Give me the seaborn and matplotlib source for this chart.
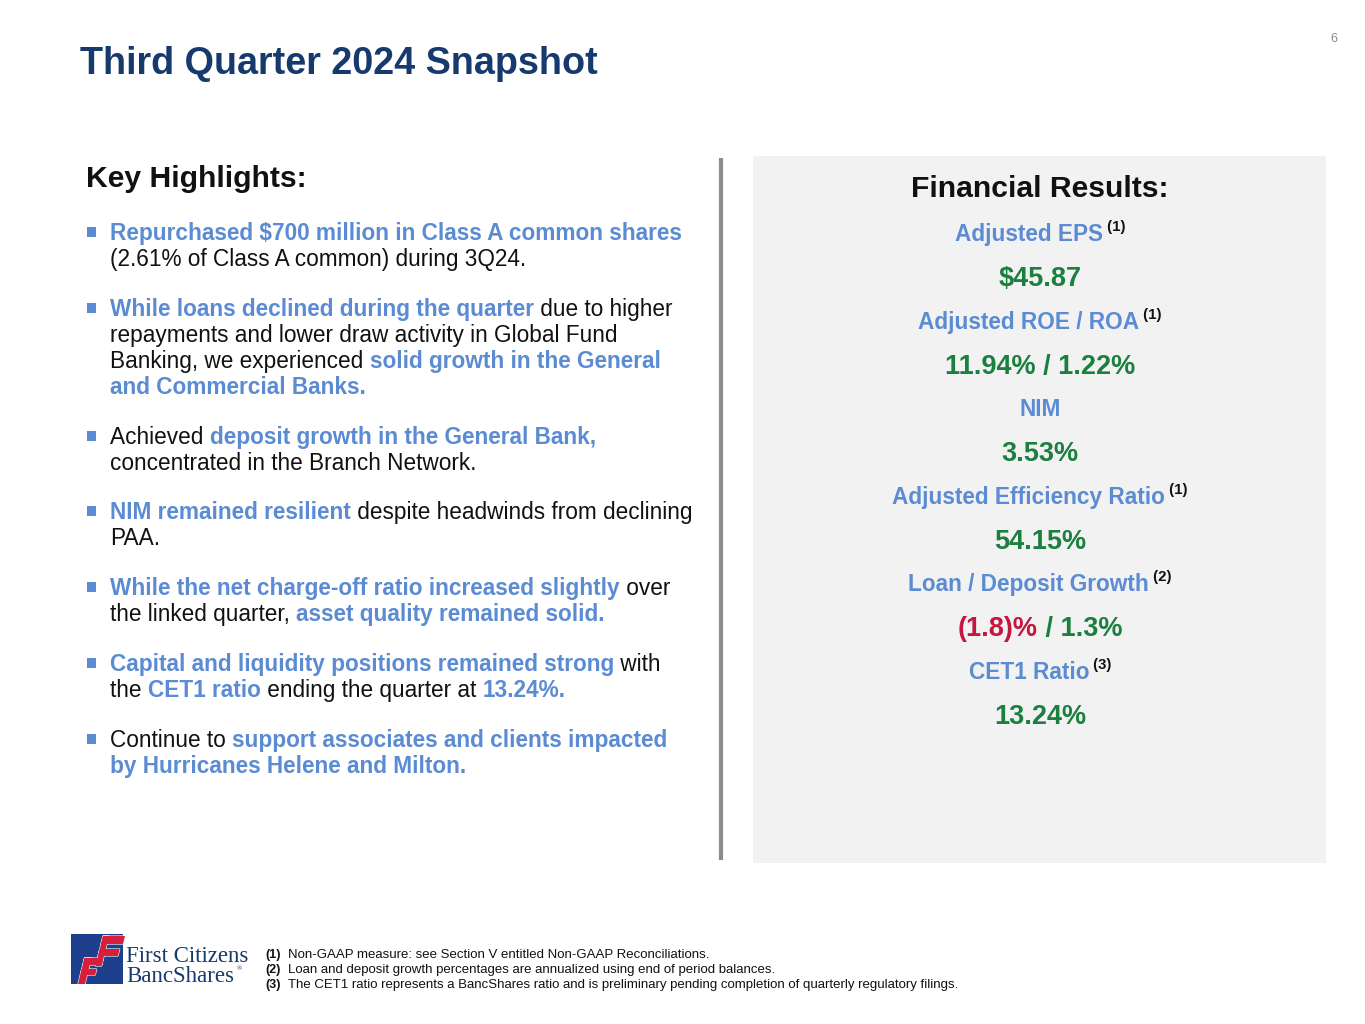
import matplotlib
matplotlib.use("Agg")
import matplotlib.pyplot as plt
import seaborn as sns
import pandas as pd
from matplotlib.patches import Rectangle, Polygon

# ---------------- data ----------------
title = "Third Quarter 2024 Snapshot"
page_number = "6"
left_heading = "Key Highlights:"
right_heading = "Financial Results:"

bullets = [
    [[("Repurchased $700 million in Class A common shares", True)],
     [("(2.61% of Class A common) during 3Q24.", False)]],
    [[("While loans declined during the quarter", True), (" due to higher", False)],
     [("repayments and lower draw activity in Global Fund", False)],
     [("Banking, we experienced ", False), ("solid growth in the General", True)],
     [("and Commercial Banks.", True)]],
    [[("Achieved ", False), ("deposit growth in the General Bank,", True)],
     [("concentrated in the Branch Network.", False)]],
    [[("NIM remained resilient", True), (" despite headwinds from declining", False)],
     [("PAA.", False)]],
    [[("While the net charge-off ratio increased slightly", True), (" over", False)],
     [("the linked quarter, ", False), ("asset quality remained solid.", True)]],
    [[("Capital and liquidity positions remained strong", True), (" with", False)],
     [("the ", False), ("CET1 ratio", True), (" ending the quarter at ", False), ("13.24%.", True)]],
    [[("Continue to ", False), ("support associates and clients impacted", True)],
     [("by Hurricanes Helene and Milton.", True)]],
]

metric_labels = ["Adjusted EPS", "Adjusted ROE / ROA", "NIM",
                 "Adjusted Efficiency Ratio", "Loan / Deposit Growth", "CET1 Ratio"]
metric_notes = ["(1)", "(1)", "", "(1)", "(2)", "(3)"]
# each value: list of (text, is_negative)
metric_values = [
    [("$45.87", False)],
    [("11.94% / 1.22%", False)],
    [("3.53%", False)],
    [("54.15%", False)],
    [("(1.8)%", True), (" / 1.3%", False)],
    [("13.24%", False)],
]

footnote_marks = ["(1)", "(2)", "(3)"]
footnote_texts = [
    "Non-GAAP measure: see Section V entitled Non-GAAP Reconciliations.",
    "Loan and deposit growth percentages are annualized using end of period balances.",
    "The CET1 ratio represents a BancShares ratio and is preliminary pending completion of quarterly regulatory filings.",
]
logo_lines = ["First Citizens", "BancShares"]

# ---------------- style ----------------
sns.set_theme(style="white")
plt.rcParams["font.family"] = ["Liberation Sans", "DejaVu Sans"]

NAVY = "#173A6E"
BLUE = "#5B8BD2"
GREEN = "#1B7F3F"
RED = "#C4163F"
DARK = "#111111"

W, H = 1365, 1024
fig = plt.figure(figsize=(W / 100, H / 100), dpi=100)
ax = fig.add_axes([0, 0, 1, 1])
ax.set_xlim(0, W)
ax.set_ylim(H, 0)
ax.axis("off")
renderer = fig.canvas.get_renderer()


def adv(s, **kw):
    t1 = ax.text(0, 0, "|" + s + "|", **kw)
    t2 = ax.text(0, 0, "||", **kw)
    w = t1.get_window_extent(renderer).width - t2.get_window_extent(renderer).width
    t1.remove()
    t2.remove()
    return w


# title & page number
ax.text(80, 74, title, fontsize=27.2, fontweight="bold", color=NAVY, va="baseline")
ax.text(1334, 42, page_number, fontsize=9, color="#8A8A8A", ha="center", va="baseline")

# right panel & divider
ax.add_patch(Rectangle((753, 156), 573, 707, facecolor="#F2F2F2", edgecolor="none", zorder=0))
ax.plot([721, 721], [158, 860], color="#8C8C8C", lw=3, solid_capstyle="butt")

# left heading
ax.text(86, 187, left_heading, fontsize=21.7, fontweight="bold", color=DARK, va="baseline")

# bullets
body_size = 16.3
line_gap = 26
bullet_gap = 23.8
y = 240
marker_x, marker_y = [], []
for bullet in bullets:
    marker_x.append(91.5)
    marker_y.append(y - 8)
    for line in bullet:
        x = 110
        for seg, hl in line:
            kw = dict(fontsize=body_size, fontweight="bold" if hl else "normal",
                      color=BLUE if hl else DARK)
            ax.text(x, y, seg, va="baseline", **kw)
            x += adv(seg, **kw)
        y += line_gap
    y += bullet_gap

sns.scatterplot(data=pd.DataFrame({"x": marker_x, "y": marker_y}), x="x", y="y",
                marker="s", s=50, color=BLUE, edgecolor="none", legend=False, ax=ax)

# right heading & metrics
cx = 1040
ax.text(cx, 197, right_heading, fontsize=21.7, fontweight="bold", color=DARK,
        ha="center", va="baseline")
label_y = 241
step = 87.6
for i, (lab, note, val) in enumerate(zip(metric_labels, metric_notes, metric_values)):
    ly = label_y + i * step
    lkw = dict(fontsize=16.3, fontweight="bold", color=BLUE)
    nkw = dict(fontsize=10.8, fontweight="bold", color=DARK)
    wl = adv(lab, **lkw)
    wn = adv(" " + note, **nkw) if note else 0
    x0 = cx - (wl + wn) / 2
    ax.text(x0, ly, lab, va="baseline", **lkw)
    if note:
        ax.text(x0 + wl, ly - 10, " " + note, va="baseline", **nkw)
    vkw = dict(fontsize=19.5, fontweight="bold")
    widths = [adv(t, **vkw) for t, _ in val]
    vx = cx - sum(widths) / 2
    for (t, neg), w in zip(val, widths):
        ax.text(vx, ly + 45, t, color=RED if neg else GREEN, va="baseline", **vkw)
        vx += w

# footnotes
for i, (m, t) in enumerate(zip(footnote_marks, footnote_texts)):
    fy = 958 + i * 15
    ax.text(265, fy, m, fontsize=9, fontweight="bold", color=DARK, va="baseline")
    ax.text(288, fy, t, fontsize=9.5, color=DARK, va="baseline")

# logo
ax.add_patch(Rectangle((71, 934), 52, 50, facecolor="#1E3F8C", edgecolor="none", zorder=2))
s = 0.25  # slant
def slanted(x0, x1, y0, y1):
    # parallelogram leaning right as it rises
    return [(x0 + (984 - y1) * s, y1), (x1 + (984 - y1) * s, y1),
            (x1 + (984 - y0) * s, y0), (x0 + (984 - y0) * s, y0)]
logo_parts = [
    slanted(78, 85, 958, 984),   # left F stem
    slanted(78, 97, 958, 965),   # left F top arm
    slanted(78, 93, 969, 975),   # left F mid arm
    slanted(91, 97, 936, 966),   # right F stem
    slanted(91, 113, 936, 944),  # right F top arm
    slanted(91, 111, 949, 956),  # right F mid arm
]
for pts in logo_parts:
    ax.add_patch(Polygon(pts, closed=True, facecolor="#D71E3A", edgecolor="white",
                         lw=0.8, zorder=3))
for pts in logo_parts:
    ax.add_patch(Polygon(pts, closed=True, facecolor="#D71E3A", edgecolor="none",
                         zorder=4))
ax.text(126, 962, logo_lines[0], fontsize=16.5, color=NAVY, va="baseline",
        family=["Liberation Serif", "DejaVu Serif"])
ax.text(126, 982, logo_lines[1], fontsize=16.5, color=NAVY, va="baseline",
        family=["Liberation Serif", "DejaVu Serif"])
ax.text(237, 970, "®", fontsize=5, color=NAVY, va="baseline",
        family=["Liberation Serif", "DejaVu Serif"])

ax.set_xlim(0, W)
ax.set_ylim(H, 0)
ax.axis("off")
fig.savefig("out.png", dpi=100)
